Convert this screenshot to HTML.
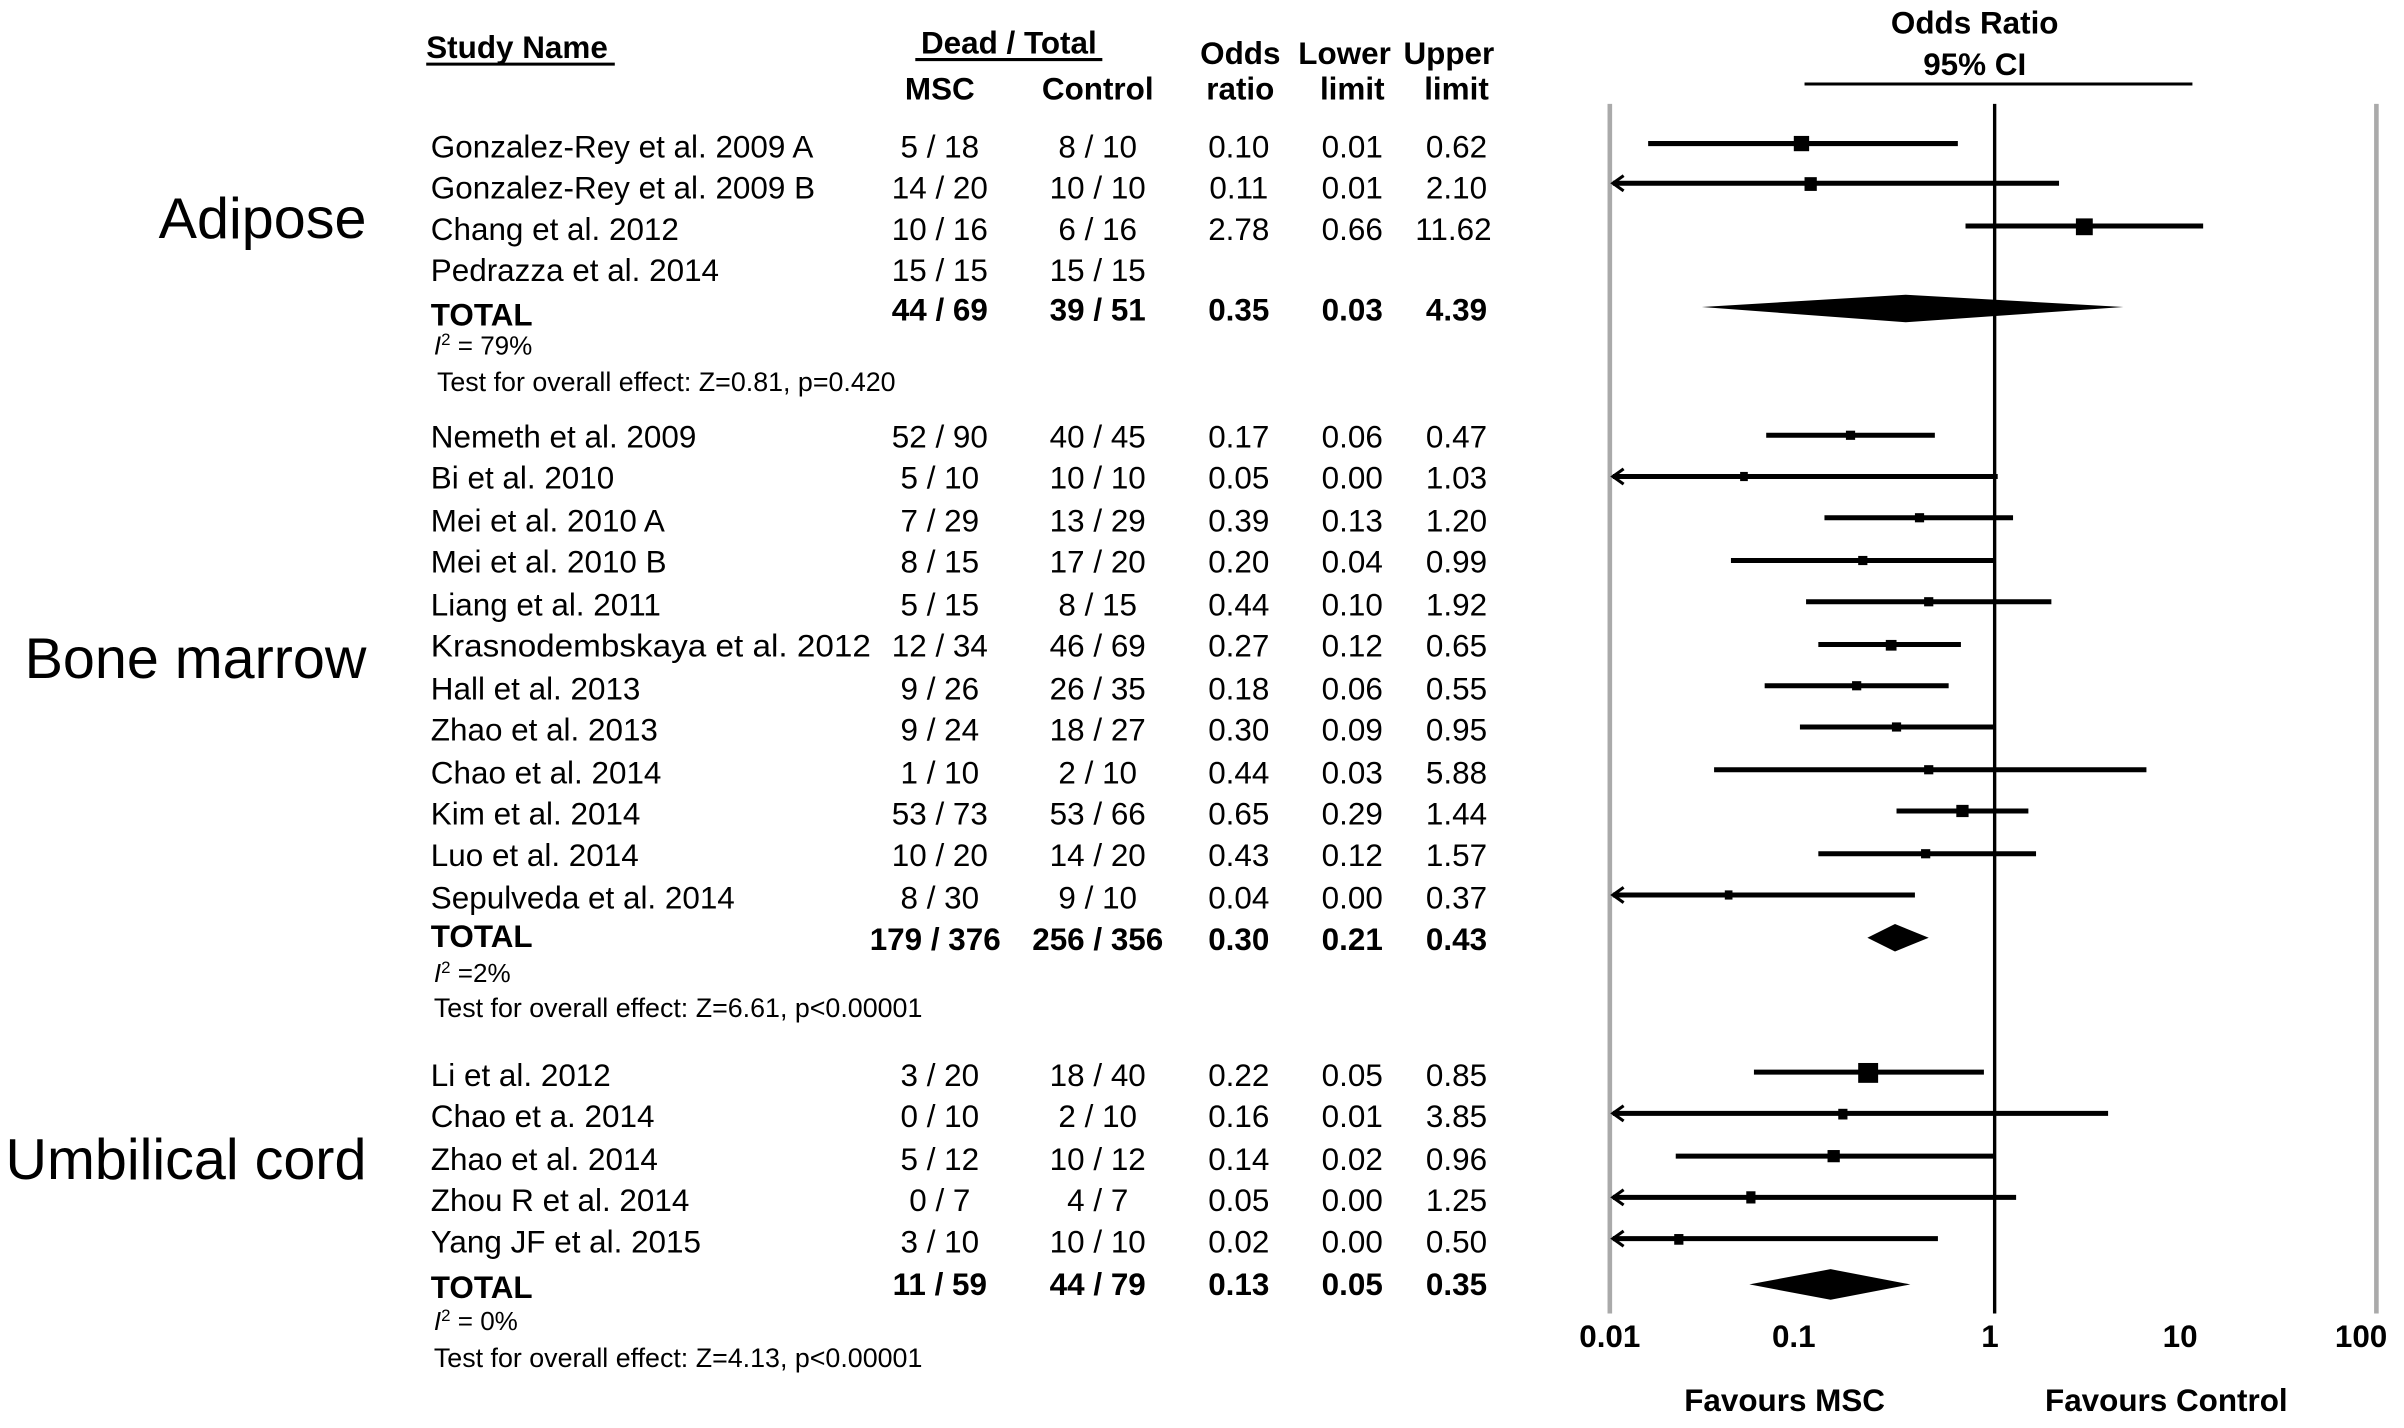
<!DOCTYPE html>
<html><head><meta charset="utf-8"><style>html,body{margin:0;padding:0;background:#fff;}svg{display:block}</style></head>
<body>
<svg width="2404" height="1428" viewBox="0 0 1568 935" preserveAspectRatio="none" xmlns="http://www.w3.org/2000/svg" font-family="Liberation Sans, Arial, sans-serif" fill="#000">
<g font-weight="bold" font-size="20.5">
<text x="278" y="38">Study Name</text>
<line x1="278" y1="42" x2="401" y2="42" stroke="#000" stroke-width="2"/>
<text x="658" y="35" text-anchor="middle">Dead / Total</text>
<line x1="597" y1="39" x2="719" y2="39" stroke="#000" stroke-width="2"/>
<text x="613" y="65" text-anchor="middle">MSC</text>
<text x="716" y="65" text-anchor="middle">Control</text>
<text x="809" y="42" text-anchor="middle">Odds</text>
<text x="809" y="65" text-anchor="middle">ratio</text>
<text x="877" y="42" text-anchor="middle">Lower</text>
<text x="882" y="65" text-anchor="middle">limit</text>
<text x="945" y="42" text-anchor="middle">Upper</text>
<text x="950" y="65" text-anchor="middle">limit</text>
<text x="1288" y="22" text-anchor="middle">Odds Ratio</text>
<text x="1288" y="49" text-anchor="middle">95% CI</text>
<line x1="1177" y1="55" x2="1430" y2="55" stroke="#000" stroke-width="2"/>
<text x="1050" y="882" text-anchor="middle">0.01</text>
<text x="1170" y="882" text-anchor="middle">0.1</text>
<text x="1298" y="882" text-anchor="middle">1</text>
<text x="1422" y="882" text-anchor="middle">10</text>
<text x="1540" y="882" text-anchor="middle">100</text>
<text x="1164" y="924" text-anchor="middle">Favours MSC</text>
<text x="1413" y="924" text-anchor="middle">Favours Control</text>
</g>
<g font-size="37.5">
<text x="239" y="156" text-anchor="end">Adipose</text>
<text x="239" y="444" text-anchor="end">Bone marrow</text>
<text x="239" y="772" text-anchor="end">Umbilical cord</text>
</g>
<g font-size="20.5">
<text x="281" y="103">Gonzalez-Rey et al. 2009 A</text><text x="613" y="103" text-anchor="middle">5 / 18</text><text x="716" y="103" text-anchor="middle">8 / 10</text><text x="808" y="103" text-anchor="middle">0.10</text><text x="882" y="103" text-anchor="middle">0.01</text><text x="950" y="103" text-anchor="middle">0.62</text>
<text x="281" y="130">Gonzalez-Rey et al. 2009 B</text><text x="613" y="130" text-anchor="middle">14 / 20</text><text x="716" y="130" text-anchor="middle">10 / 10</text><text x="808" y="130" text-anchor="middle">0.11</text><text x="882" y="130" text-anchor="middle">0.01</text><text x="950" y="130" text-anchor="middle">2.10</text>
<text x="281" y="157">Chang et al. 2012</text><text x="613" y="157" text-anchor="middle">10 / 16</text><text x="716" y="157" text-anchor="middle">6 / 16</text><text x="808" y="157" text-anchor="middle">2.78</text><text x="882" y="157" text-anchor="middle">0.66</text><text x="948" y="157" text-anchor="middle">11.62</text>
<text x="281" y="184">Pedrazza et al. 2014</text><text x="613" y="184" text-anchor="middle">15 / 15</text><text x="716" y="184" text-anchor="middle">15 / 15</text>
<g font-weight="bold"><text x="281" y="213">TOTAL</text><text x="613" y="210" text-anchor="middle">44 / 69</text><text x="716" y="210" text-anchor="middle">39 / 51</text><text x="808" y="210" text-anchor="middle">0.35</text><text x="882" y="210" text-anchor="middle">0.03</text><text x="950" y="210" text-anchor="middle">4.39</text></g>
<text x="283" y="232" font-size="17"><tspan font-style="italic">I</tspan><tspan font-size="11" dy="-6">2</tspan><tspan dy="6"> = 79%</tspan></text>
<text x="285" y="256" font-size="17.5">Test for overall effect: Z=0.81, p=0.420</text>

<text x="281" y="293">Nemeth et al. 2009</text><text x="613" y="293" text-anchor="middle">52 / 90</text><text x="716" y="293" text-anchor="middle">40 / 45</text><text x="808" y="293" text-anchor="middle">0.17</text><text x="882" y="293" text-anchor="middle">0.06</text><text x="950" y="293" text-anchor="middle">0.47</text>
<text x="281" y="320">Bi et al. 2010</text><text x="613" y="320" text-anchor="middle">5 / 10</text><text x="716" y="320" text-anchor="middle">10 / 10</text><text x="808" y="320" text-anchor="middle">0.05</text><text x="882" y="320" text-anchor="middle">0.00</text><text x="950" y="320" text-anchor="middle">1.03</text>
<text x="281" y="348">Mei et al. 2010 A</text><text x="613" y="348" text-anchor="middle">7 / 29</text><text x="716" y="348" text-anchor="middle">13 / 29</text><text x="808" y="348" text-anchor="middle">0.39</text><text x="882" y="348" text-anchor="middle">0.13</text><text x="950" y="348" text-anchor="middle">1.20</text>
<text x="281" y="375">Mei et al. 2010 B</text><text x="613" y="375" text-anchor="middle">8 / 15</text><text x="716" y="375" text-anchor="middle">17 / 20</text><text x="808" y="375" text-anchor="middle">0.20</text><text x="882" y="375" text-anchor="middle">0.04</text><text x="950" y="375" text-anchor="middle">0.99</text>
<text x="281" y="403">Liang et al. 2011</text><text x="613" y="403" text-anchor="middle">5 / 15</text><text x="716" y="403" text-anchor="middle">8 / 15</text><text x="808" y="403" text-anchor="middle">0.44</text><text x="882" y="403" text-anchor="middle">0.10</text><text x="950" y="403" text-anchor="middle">1.92</text>
<text x="281" y="430" textLength="287" lengthAdjust="spacingAndGlyphs">Krasnodembskaya et al. 2012</text><text x="613" y="430" text-anchor="middle">12 / 34</text><text x="716" y="430" text-anchor="middle">46 / 69</text><text x="808" y="430" text-anchor="middle">0.27</text><text x="882" y="430" text-anchor="middle">0.12</text><text x="950" y="430" text-anchor="middle">0.65</text>
<text x="281" y="458">Hall et al. 2013</text><text x="613" y="458" text-anchor="middle">9 / 26</text><text x="716" y="458" text-anchor="middle">26 / 35</text><text x="808" y="458" text-anchor="middle">0.18</text><text x="882" y="458" text-anchor="middle">0.06</text><text x="950" y="458" text-anchor="middle">0.55</text>
<text x="281" y="485">Zhao et al. 2013</text><text x="613" y="485" text-anchor="middle">9 / 24</text><text x="716" y="485" text-anchor="middle">18 / 27</text><text x="808" y="485" text-anchor="middle">0.30</text><text x="882" y="485" text-anchor="middle">0.09</text><text x="950" y="485" text-anchor="middle">0.95</text>
<text x="281" y="513">Chao et al. 2014</text><text x="613" y="513" text-anchor="middle">1 / 10</text><text x="716" y="513" text-anchor="middle">2 / 10</text><text x="808" y="513" text-anchor="middle">0.44</text><text x="882" y="513" text-anchor="middle">0.03</text><text x="950" y="513" text-anchor="middle">5.88</text>
<text x="281" y="540">Kim et al. 2014</text><text x="613" y="540" text-anchor="middle">53 / 73</text><text x="716" y="540" text-anchor="middle">53 / 66</text><text x="808" y="540" text-anchor="middle">0.65</text><text x="882" y="540" text-anchor="middle">0.29</text><text x="950" y="540" text-anchor="middle">1.44</text>
<text x="281" y="567">Luo et al. 2014</text><text x="613" y="567" text-anchor="middle">10 / 20</text><text x="716" y="567" text-anchor="middle">14 / 20</text><text x="808" y="567" text-anchor="middle">0.43</text><text x="882" y="567" text-anchor="middle">0.12</text><text x="950" y="567" text-anchor="middle">1.57</text>
<text x="281" y="595">Sepulveda et al. 2014</text><text x="613" y="595" text-anchor="middle">8 / 30</text><text x="716" y="595" text-anchor="middle">9 / 10</text><text x="808" y="595" text-anchor="middle">0.04</text><text x="882" y="595" text-anchor="middle">0.00</text><text x="950" y="595" text-anchor="middle">0.37</text>
<g font-weight="bold"><text x="281" y="620">TOTAL</text><text x="610" y="622" text-anchor="middle">179 / 376</text><text x="716" y="622" text-anchor="middle">256 / 356</text><text x="808" y="622" text-anchor="middle">0.30</text><text x="882" y="622" text-anchor="middle">0.21</text><text x="950" y="622" text-anchor="middle">0.43</text></g>
<text x="283" y="643" font-size="17"><tspan font-style="italic">I</tspan><tspan font-size="11" dy="-6">2</tspan><tspan dy="6"> =2%</tspan></text>
<text x="283" y="666" font-size="17.5">Test for overall effect: Z=6.61, p&lt;0.00001</text>

<text x="281" y="711">Li et al. 2012</text><text x="613" y="711" text-anchor="middle">3 / 20</text><text x="716" y="711" text-anchor="middle">18 / 40</text><text x="808" y="711" text-anchor="middle">0.22</text><text x="882" y="711" text-anchor="middle">0.05</text><text x="950" y="711" text-anchor="middle">0.85</text>
<text x="281" y="738">Chao et a. 2014</text><text x="613" y="738" text-anchor="middle">0 / 10</text><text x="716" y="738" text-anchor="middle">2 / 10</text><text x="808" y="738" text-anchor="middle">0.16</text><text x="882" y="738" text-anchor="middle">0.01</text><text x="950" y="738" text-anchor="middle">3.85</text>
<text x="281" y="766">Zhao et al. 2014</text><text x="613" y="766" text-anchor="middle">5 / 12</text><text x="716" y="766" text-anchor="middle">10 / 12</text><text x="808" y="766" text-anchor="middle">0.14</text><text x="882" y="766" text-anchor="middle">0.02</text><text x="950" y="766" text-anchor="middle">0.96</text>
<text x="281" y="793">Zhou R et al. 2014</text><text x="613" y="793" text-anchor="middle">0 / 7</text><text x="716" y="793" text-anchor="middle">4 / 7</text><text x="808" y="793" text-anchor="middle">0.05</text><text x="882" y="793" text-anchor="middle">0.00</text><text x="950" y="793" text-anchor="middle">1.25</text>
<text x="281" y="820">Yang JF et al. 2015</text><text x="613" y="820" text-anchor="middle">3 / 10</text><text x="716" y="820" text-anchor="middle">10 / 10</text><text x="808" y="820" text-anchor="middle">0.02</text><text x="882" y="820" text-anchor="middle">0.00</text><text x="950" y="820" text-anchor="middle">0.50</text>
<g font-weight="bold"><text x="281" y="850">TOTAL</text><text x="613" y="848" text-anchor="middle">11 / 59</text><text x="716" y="848" text-anchor="middle">44 / 79</text><text x="808" y="848" text-anchor="middle">0.13</text><text x="882" y="848" text-anchor="middle">0.05</text><text x="950" y="848" text-anchor="middle">0.35</text></g>
<text x="283" y="871" font-size="17"><tspan font-style="italic">I</tspan><tspan font-size="11" dy="-6">2</tspan><tspan dy="6"> = 0%</tspan></text>
<text x="283" y="895" font-size="17.5">Test for overall effect: Z=4.13, p&lt;0.00001</text>
</g>
<line x1="1050" y1="68" x2="1050" y2="860" stroke="#aaa" stroke-width="3"/>
<line x1="1550" y1="68" x2="1550" y2="860" stroke="#aaa" stroke-width="3"/>
<line x1="1301" y1="68" x2="1301" y2="860" stroke="#000" stroke-width="2.2"/>
<g stroke="#000" stroke-width="3.3" fill="none">
<line x1="1075" y1="94" x2="1277" y2="94"/>
<line x1="1052" y1="120" x2="1343" y2="120"/><polyline points="1059,115 1052,120 1059,125" stroke-width="2"/>
<line x1="1282" y1="148" x2="1437" y2="148"/>
<line x1="1152" y1="285" x2="1262" y2="285"/>
<line x1="1052" y1="312" x2="1303" y2="312"/><polyline points="1059,307 1052,312 1059,317" stroke-width="2"/>
<line x1="1190" y1="339" x2="1313" y2="339"/>
<line x1="1129" y1="367" x2="1301" y2="367"/>
<line x1="1178" y1="394" x2="1338" y2="394"/>
<line x1="1186" y1="422" x2="1279" y2="422"/>
<line x1="1151" y1="449" x2="1271" y2="449"/>
<line x1="1174" y1="476" x2="1300" y2="476"/>
<line x1="1118" y1="504" x2="1400" y2="504"/>
<line x1="1237" y1="531" x2="1323" y2="531"/>
<line x1="1186" y1="559" x2="1328" y2="559"/>
<line x1="1052" y1="586" x2="1249" y2="586"/><polyline points="1059,581 1052,586 1059,591" stroke-width="2"/>
<line x1="1144" y1="702" x2="1294" y2="702"/>
<line x1="1052" y1="729" x2="1375" y2="729"/><polyline points="1059,724 1052,729 1059,734" stroke-width="2"/>
<line x1="1093" y1="757" x2="1301" y2="757"/>
<line x1="1052" y1="784" x2="1315" y2="784"/><polyline points="1059,779 1052,784 1059,789" stroke-width="2"/>
<line x1="1052" y1="811" x2="1264" y2="811"/><polyline points="1059,806 1052,811 1059,816" stroke-width="2"/>
</g>
<g>
<rect x="1170" y="89" width="10" height="10"/>
<rect x="1177" y="116" width="8" height="9"/>
<rect x="1354" y="143" width="11" height="11"/>
<rect x="1204" y="282" width="6" height="6"/>
<rect x="1135" y="309" width="5" height="6"/>
<rect x="1249" y="336" width="6" height="6"/>
<rect x="1212" y="364" width="6" height="6"/>
<rect x="1255" y="391" width="6" height="6"/>
<rect x="1230" y="419" width="7" height="7"/>
<rect x="1208" y="446" width="6" height="6"/>
<rect x="1234" y="473" width="6" height="6"/>
<rect x="1255" y="501" width="6" height="6"/>
<rect x="1276" y="527" width="8" height="8"/>
<rect x="1253" y="556" width="6" height="6"/>
<rect x="1125" y="583" width="5" height="6"/>
<rect x="1212" y="696" width="13" height="13"/>
<rect x="1199" y="726" width="6" height="7"/>
<rect x="1192" y="753" width="8" height="8"/>
<rect x="1139" y="780" width="6" height="8"/>
<rect x="1092" y="808" width="6" height="7"/>
<polygon points="1110,201 1243,193 1385,201 1243,211"/>
<polygon points="1218,614 1236,605 1258,614 1236,623"/>
<polygon points="1141,841 1194,831 1246,841 1194,851"/>
</g>
</svg>
</body></html>
